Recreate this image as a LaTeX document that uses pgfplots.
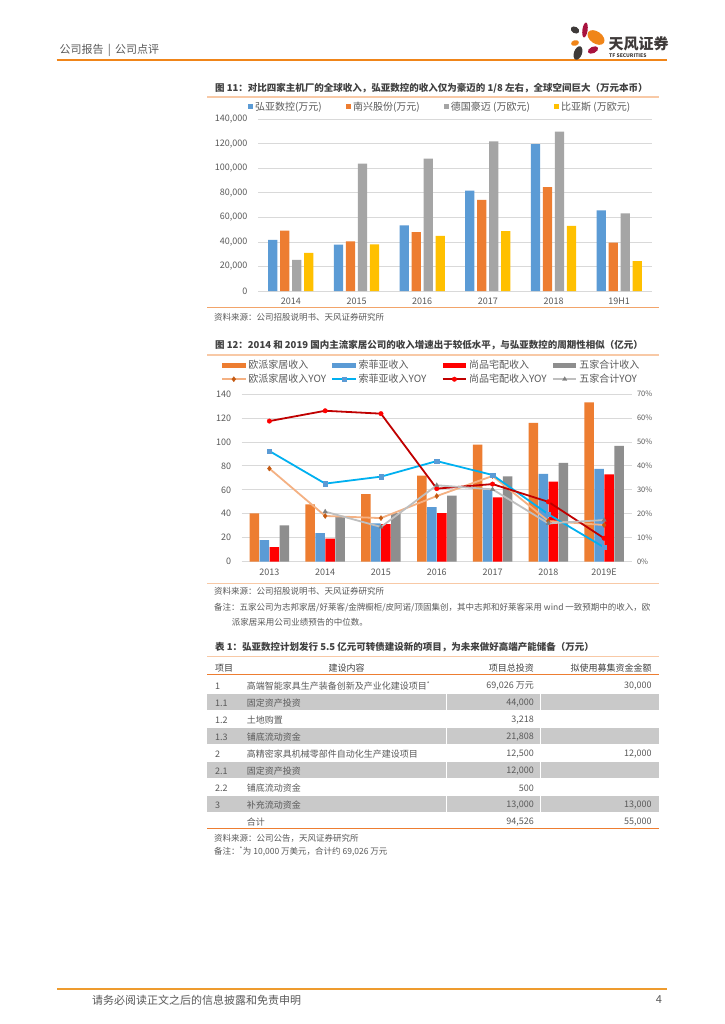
\documentclass[border=0pt]{standalone}
\usepackage{fontspec}
\setmainfont{Noto Sans CJK SC}
\usepackage{pgfplots}
\pgfplotsset{compat=1.18}

\definecolor{cBlue}{HTML}{5B9BD5}
\definecolor{cOrange}{HTML}{ED7D31}
\definecolor{cGray}{HTML}{A5A5A5}
\definecolor{cYellow}{HTML}{FFC000}
\definecolor{cRed}{HTML}{FF0000}
\definecolor{cDGray}{HTML}{8E8E8E}
\definecolor{cPeach}{HTML}{F4B183}
\definecolor{cSky}{HTML}{00B0F0}
\definecolor{cDRed}{HTML}{C00000}
\definecolor{cLGray}{HTML}{BFBFBF}
\definecolor{cBrown}{HTML}{C55A11}
\definecolor{cMark}{HTML}{7F7F7F}
\definecolor{txt}{HTML}{595959}
\definecolor{ttl}{HTML}{404040}
\definecolor{grd}{HTML}{D9D9D9}
\definecolor{rowg}{HTML}{C9C9C9}
\definecolor{lnA}{HTML}{F8C9A6}
\definecolor{lnB}{HTML}{F2A46A}
\definecolor{tfOrange}{HTML}{F08519}
\definecolor{tfCrimson}{HTML}{A8123E}
\definecolor{tfDark}{HTML}{3E3A39}
\definecolor{footOr}{HTML}{EE9B2E}

\newcommand{\fs}[1]{\fontsize{#1}{#1}\selectfont}

\pgfplotsset{
  barA/.style={ybar, bar width=9.3pt, draw=none,
    legend image code/.code={\fill[##1] (0pt,-2.6pt) rectangle (5.2pt,2.6pt);}},
  barB/.style={ybar, bar width=9.5pt, draw=none,
    legend image code/.code={\fill[##1] (0pt,-2.6pt) rectangle (23.5pt,2.6pt);}},
  lineleg/.style={legend image code/.code={\draw[mark repeat=2,mark phase=2,##1]
    plot coordinates {(0pt,0pt) (11.75pt,0pt) (23.5pt,0pt)};}},
  pageaxis/.style={scale only axis, anchor=south west,
    axis line style={draw=none}, major tick length=0pt,
    ticklabel style={font=\fs{9}, text=txt},
    /pgf/number format/assume math mode=true,
    xticklabel style={yshift=-3.5pt}},
}

\begin{document}
\begin{tikzpicture}
\path[use as bounding box, fill=white] (0pt,0pt) rectangle (724pt,-1024pt);

\begin{scope}[x=1pt, y=-1pt, every node/.style={inner sep=0pt, text=txt}]
% header
\node[anchor=west, font=\fs{11}] at (59.3,50) {公司报告 \,|\, 公司点评};
\draw[tfOrange, line width=2pt] (56.7,60.5) -- (667,60.5);
\fill[tfDark, rotate around={-30:(575,30)}] (575,30) ellipse [x radius=4.5pt, y radius=3.2pt];
\fill[tfCrimson, rotate around={-8:(585,30)}] (585,30) ellipse [x radius=2.6pt, y radius=7.5pt];
\fill[tfOrange, rotate around={-35:(596,37.5)}] (596,37.5) ellipse [x radius=9.5pt, y radius=6pt];
\fill[tfOrange, rotate around={15:(575,43)}] (575,43) ellipse [x radius=4pt, y radius=2.8pt];
\fill[tfCrimson, rotate around={25:(593,50)}] (593,50) ellipse [x radius=5.5pt, y radius=3.2pt];
\fill[tfDark, rotate around={-20:(578,53)}] (578,53) ellipse [x radius=4pt, y radius=7pt];
\node[anchor=west, font=\bfseries\fs{15}, text=tfDark] at (608.5,44) {天风证券};
\node[anchor=west, font=\bfseries\fs{5}, text=tfDark] at (609,55.5) {TF SECURITIES};

% chart 1 frame texts
\node[anchor=west, font=\bfseries\fs{9.5}, text=ttl] at (215,88) {图 11：对比四家主机厂的全球收入，弘亚数控的收入仅为豪迈的 1/8 左右，全球空间巨大（万元本币）};
\draw[lnA, line width=1.2pt] (207,97) -- (659,97);
\draw[lnB, line width=1pt] (207,307) -- (659,307);
\node[anchor=west, font=\fs{8.5}] at (214,317) {资料来源：公司招股说明书、天风证券研究所};

% chart 2 frame texts
\node[anchor=west, font=\bfseries\fs{9.5}, text=ttl] at (215,345) {图 12：2014 和 2019 国内主流家居公司的收入增速出于较低水平，与弘亚数控的周期性相似（亿元）};
\draw[lnA, line width=1.2pt] (207,355) -- (659,355);
\draw[lnA, line width=1.2pt] (207,583.3) -- (659,583.3);
\node[anchor=west, font=\fs{8.5}] at (214,591) {资料来源：公司招股说明书、天风证券研究所};
\node[anchor=west, font=\fs{8.5}] at (214,608) {备注：五家公司为志邦家居/好莱客/金牌橱柜/皮阿诺/顶固集创，其中志邦和好莱客采用 wind 一致预期中的收入，欧};
\node[anchor=west, font=\fs{8.5}] at (231.7,622.7) {派家居采用公司业绩预告的中位数。};

% table
\node[anchor=west, font=\bfseries\fs{9.5}, text=ttl] at (215,647.3) {表 1：弘亚数控计划发行 5.5 亿元可转债建设新的项目，为未来做好高端产能储备（万元）};
\draw[lnA, line width=1.2pt] (207,656.7) -- (659,656.7);
\begin{scope}[every node/.append style={font=\fs{9}, text=ttl}]
\node[anchor=west] at (215,668.3) {项目};
\node at (346.7,668.3) {建设内容};
\node[anchor=east] at (534,668.3) {项目总投资};
\node[anchor=east] at (651.7,668.3) {拟使用募集资金金额};
\end{scope}
\draw[cOrange, line width=1.2pt] (207,674.3) -- (659,674.3);
\foreach \c in {703,737,771,805} {
  \fill[rowg] (207,\c-9) rectangle (659,\c+7.4);
  \draw[white, line width=0.6pt] (446.7,\c-9) -- (446.7,\c+7.4);
  \draw[white, line width=0.6pt] (540.7,\c-9) -- (540.7,\c+7.4);
}
\begin{scope}[every node/.append style={font=\fs{9}}]
\node[anchor=west] at (215,686) {1};
\node[anchor=west] at (246.7,686) {高端智能家具生产装备创新及产业化建设项目\textsuperscript{*}};
\node[anchor=east] at (534,686) {69,026 万元};
\node[anchor=east] at (651.7,686) {30,000};
\node[anchor=west] at (215,703) {1.1};
\node[anchor=west] at (246.7,703) {固定资产投资};
\node[anchor=east] at (534,703) {44,000};
\node[anchor=west] at (215,720) {1.2};
\node[anchor=west] at (246.7,720) {土地购置};
\node[anchor=east] at (534,720) {3,218};
\node[anchor=west] at (215,737) {1.3};
\node[anchor=west] at (246.7,737) {铺底流动资金};
\node[anchor=east] at (534,737) {21,808};
\node[anchor=west] at (215,754) {2};
\node[anchor=west] at (246.7,754) {高精密家具机械零部件自动化生产建设项目};
\node[anchor=east] at (534,754) {12,500};
\node[anchor=east] at (651.7,754) {12,000};
\node[anchor=west] at (215,771) {2.1};
\node[anchor=west] at (246.7,771) {固定资产投资};
\node[anchor=east] at (534,771) {12,000};
\node[anchor=west] at (215,788) {2.2};
\node[anchor=west] at (246.7,788) {铺底流动资金};
\node[anchor=east] at (534,788) {500};
\node[anchor=west] at (215,805) {3};
\node[anchor=west] at (246.7,805) {补充流动资金};
\node[anchor=east] at (534,805) {13,000};
\node[anchor=east] at (651.7,805) {13,000};
\node[anchor=west] at (246.7,822) {合计};
\node[anchor=east] at (534,822) {94,526};
\node[anchor=east] at (651.7,822) {55,000};
\end{scope}
\draw[cOrange, line width=1.2pt] (207,828.3) -- (659,828.3);
\node[anchor=west, font=\fs{8.5}] at (214,838.3) {资料来源：公司公告，天风证券研究所};
\node[anchor=west, font=\fs{8.5}] at (214,851.7) {备注：\textsuperscript{*}为 10,000 万美元，合计约 69,026 万元};

% footer
\draw[footOr, line width=2pt] (57,989) -- (667,989);
\node[anchor=west, font=\fs{11}] at (92,1000) {请务必阅读正文之后的信息披露和免责申明};
\node[font=\fs{11}] at (659,1000) {4};
\end{scope}

% ---------- chart 1 ----------
\begin{axis}[pageaxis,
  at={(258pt,-291pt)}, width=394pt, height=171.7pt,
  xmin=-0.5, xmax=5.5, ymin=0, ymax=140000,
  ymajorgrids, grid style={grd, line width=0.8pt},
  xtick={0,...,5}, xticklabels={2014,2015,2016,2017,2018,19H1},
  ytick={0,20000,...,140000},
  yticklabels={0,{20,000},{40,000},{60,000},{80,000},{100,000},{120,000},{140,000}},
  yticklabel style={xshift=-7pt},
  scaled y ticks=false,
  legend columns=4,
  legend style={at={(0.5,1)}, anchor=center, yshift=12.6pt, xshift=-15pt,
    draw=none, fill=none, font=\fs{10}, text=txt,
    nodes={inner xsep=2pt},
    /tikz/every even column/.append style={column sep=22pt}},
]
\addplot[barA, bar shift=-18pt, fill=cBlue] coordinates {(0,41600) (1,37800) (2,53500) (3,81900) (4,119700) (5,65700)};
\addlegendentry{弘亚数控(万元)}
\addplot[barA, bar shift=-6pt, fill=cOrange] coordinates {(0,49200) (1,40500) (2,48100) (3,74300) (4,84600) (5,39500)};
\addlegendentry{南兴股份(万元)}
\addplot[barA, bar shift=6pt, fill=cGray] coordinates {(0,25400) (1,103800) (2,107900) (3,121900) (4,129900) (5,63300)};
\addlegendentry{德国豪迈 (万欧元)}
\addplot[barA, bar shift=18pt, fill=cYellow] coordinates {(0,31100) (1,38100) (2,44900) (3,48900) (4,53000) (5,24300)};
\addlegendentry{比亚斯 (万欧元)}
\end{axis}

% ---------- chart 2: bars (left axis) ----------
\begin{axis}[pageaxis,
  at={(241.5pt,-561.7pt)}, width=390.5pt, height=167.7pt,
  xmin=-0.5, xmax=6.5, ymin=0, ymax=140,
  ymajorgrids, grid style={grd, line width=0.8pt},
  xtick={0,...,6}, xticklabels={2013,2014,2015,2016,2017,2018,2019E},
  ytick={0,20,...,140},
  yticklabels={0,20,40,60,80,100,120,140},
  yticklabel style={xshift=-6.8pt},
  legend columns=4,
  legend style={at={(0.5,1)}, anchor=center, yshift=21.8pt, xshift=3pt,
    draw=none, fill=none, font=\fs{10}, text=txt,
    nodes={inner xsep=2pt, inner ysep=2pt, text width=77pt, align=left},
    row sep=0pt,
    /tikz/every even column/.append style={column sep=4pt}},
]
\addplot[barB, bar shift=-15pt, fill=cOrange] coordinates {(0,40.4) (1,47.9) (2,56.5) (3,71.8) (4,97.7) (5,115.8) (6,133)};
\addlegendentry{欧派家居收入}
\addplot[barB, bar shift=-5pt, fill=cBlue] coordinates {(0,18.1) (1,23.9) (2,32) (3,45.6) (4,60) (5,73.3) (6,77.4)};
\addlegendentry{索菲亚收入}
\addplot[barB, bar shift=5pt, fill=cRed] coordinates {(0,12.2) (1,19.2) (2,31.4) (3,40.6) (4,53.8) (5,66.8) (6,73)};
\addlegendentry{尚品宅配收入}
\addplot[barB, bar shift=15pt, fill=cDGray] coordinates {(0,30.3) (1,38) (2,40.5) (3,55.1) (4,71.3) (5,82.5) (6,96.6)};
\addlegendentry{五家合计收入}
\addlegendimage{lineleg, cPeach, line width=1.8pt, mark=diamond*, mark size=2.6pt, mark options={fill=cBrown, draw=cBrown, line width=0.3pt}}
\addlegendentry{欧派家居收入YOY}
\addlegendimage{lineleg, cSky, line width=1.8pt, mark=square*, mark size=2.2pt, mark options={fill=cBlue, draw=cBlue, line width=0.3pt}}
\addlegendentry{索菲亚收入YOY}
\addlegendimage{lineleg, cDRed, line width=1.8pt, mark=*, mark size=2.3pt, mark options={fill=cRed, draw=cRed, line width=0.3pt}}
\addlegendentry{尚品宅配收入YOY}
\addlegendimage{lineleg, cLGray, line width=1.8pt, mark=triangle*, mark size=2.5pt, mark options={fill=cMark, draw=cMark, line width=0.3pt}}
\addlegendentry{五家合计YOY}
\end{axis}

% ---------- chart 2: YOY lines (right axis) ----------
\begin{axis}[pageaxis,
  at={(241.5pt,-561.7pt)}, width=390.5pt, height=167.7pt,
  xmin=-0.5, xmax=6.5, ymin=0, ymax=70,
  xtick=\empty,
  ytick={0,10,...,70},
  yticklabels={0\%,10\%,20\%,30\%,40\%,50\%,60\%,70\%},
  yticklabel pos=right,
  yticklabel style={font=\fs{7.5}, xshift=1.5pt},
]
\addplot[cPeach, line width=1.8pt, mark=diamond*, mark size=2.6pt, mark options={fill=cBrown, draw=cBrown, line width=0.3pt}]
  coordinates {(0,38.9) (1,19.1) (2,18.2) (3,27.4) (4,35.8) (5,17) (6,15.3)};
\addplot[cSky, line width=1.8pt, mark=square*, mark size=2.2pt, mark options={fill=cBlue, draw=cBlue, line width=0.3pt}]
  coordinates {(0,46.2) (1,32.6) (2,35.5) (3,42.0) (4,36.2) (5,19.8) (6,6.0)};
\addplot[cDRed, line width=1.8pt, mark=*, mark size=2.3pt, mark options={fill=cRed, draw=cRed, line width=0.3pt}]
  coordinates {(0,58.7) (1,63.0) (2,61.8) (3,30.5) (4,32.4) (5,25.0) (6,9.8)};
\addplot[cLGray, line width=1.8pt, mark=triangle*, mark size=2.5pt, mark options={fill=cMark, draw=cMark, line width=0.3pt}]
  coordinates {(1,20.9) (2,14.5) (3,31.9) (4,30.2) (5,16.0) (6,17.4)};
\end{axis}
\end{tikzpicture}
\end{document}
